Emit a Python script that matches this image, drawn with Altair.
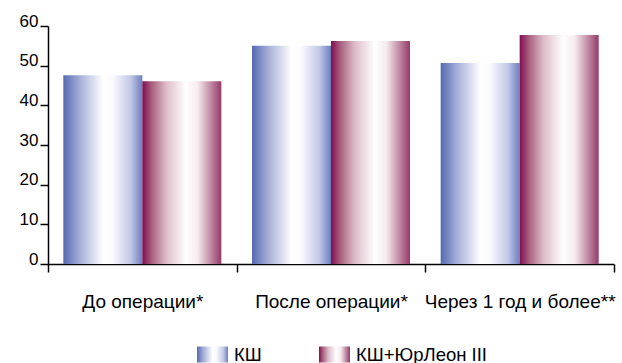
import altair as alt
import pandas as pd

categories = ["До операции*", "После операции*", "Через 1 год и более**"]
series = ["КШ", "КШ+ЮрЛеон III"]
values_ksh = [47.6, 55.0, 50.7]
values_ksh_yur = [46.1, 56.2, 57.7]

rows = []
for i, c in enumerate(categories):
    rows.append({"cat": c, "series": series[0], "value": values_ksh[i]})
    rows.append({"cat": c, "series": series[1], "value": values_ksh_yur[i]})
df = pd.DataFrame(rows)

blue_grad = ("{gradient: 'linear', x1: 0, y1: 0, x2: 1, y2: 0, stops: ["
             "{offset: 0, color: '#5669b2'}, {offset: 0.2, color: '#a3acd6'},"
             "{offset: 0.5, color: '#ffffff'}, {offset: 0.62, color: '#fbfbfe'},"
             "{offset: 0.85, color: '#c2c8e6'}, {offset: 1, color: '#6d7ec0'}]}")
red_grad = ("{gradient: 'linear', x1: 0, y1: 0, x2: 1, y2: 0, stops: ["
            "{offset: 0, color: '#820c52'}, {offset: 0.12, color: '#a8607e'},"
            "{offset: 0.3, color: '#dcbcc8'}, {offset: 0.55, color: '#ffffff'},"
            "{offset: 0.7, color: '#f5ebee'}, {offset: 1, color: '#953a68'}]}")

label_font = "Liberation Sans"

bars = alt.Chart(df).mark_bar().encode(
    x=alt.X("cat:N", sort=categories, title=None,
            scale=alt.Scale(paddingInner=0, paddingOuter=0),
            axis=alt.Axis(labelAngle=0, tickBand="extent", tickSize=8,
                          tickColor="#000", domainColor="#000",
                          domainWidth=1.5, tickWidth=1.5,
                          labelFont=label_font, labelFontSize=19,
                          labelColor="#000", labelBaseline="alphabetic",
                          labelPadding=35, labelLimit=300)),
    xOffset=alt.XOffset("series:N", sort=series,
                        scale=alt.Scale(paddingInner=0, paddingOuter=0.194)),
    y=alt.Y("value:Q", title=None,
            scale=alt.Scale(domain=[0, 60], nice=False),
            axis=alt.Axis(values=[0, 10, 20, 30, 40, 50, 60], grid=False,
                          tickSize=8, tickColor="#000", domainColor="#000",
                          domainWidth=1.5, tickWidth=1.5,
                          labelFont=label_font, labelFontSize=17,
                          labelColor="#000", labelBaseline="alphabetic",
                          labelPadding=2)),
    color=alt.Color("series:N", sort=series, title=None,
                    scale=alt.Scale(domain=series,
                                    range=[alt.ExprRef(blue_grad), alt.ExprRef(red_grad)]),
                    legend=alt.Legend(orient="none", legendX=149, legendY=313,
                                      direction="horizontal",
                                      symbolType="M-1,-0.516H1V0.516H-1Z",
                                      symbolSize=961, symbolStrokeWidth=0,
                                      labelFont=label_font, labelFontSize=18.5,
                                      labelColor="#000", labelOffset=6,
                                      columnPadding=57, labelLimit=300)),
)

chart = bars.properties(
    width=566, height=238,
    autosize=alt.AutoSizeParams(type="none"),
    padding={"left": 48, "top": 26, "right": 8, "bottom": 99},
).configure_view(stroke=None)

chart.save("out.html", embed_options={"renderer": "svg", "actions": False})
